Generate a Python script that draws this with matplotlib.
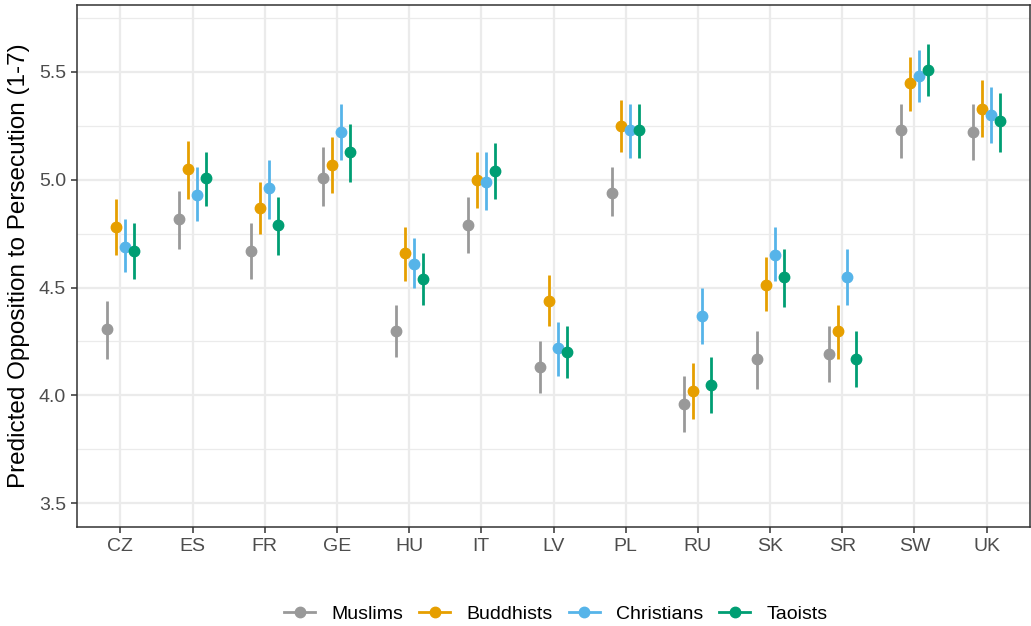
import matplotlib.pyplot as plt
from matplotlib.lines import Line2D
import numpy as np

plt.rcParams['font.family'] = ['Liberation Sans', 'DejaVu Sans']

countries = ['CZ', 'ES', 'FR', 'GE', 'HU', 'IT', 'LV', 'PL', 'RU', 'SK', 'SR', 'SW', 'UK']
groups = ['Muslims', 'Buddhists', 'Christians', 'Taoists']
colors = ['#999999', '#E69F00', '#56B4E9', '#009E73']

# point estimates, per group, in country order
muslims_est = [4.31, 4.82, 4.67, 5.01, 4.30, 4.79, 4.13, 4.94, 3.96, 4.17, 4.19, 5.23, 5.22]
buddhists_est = [4.78, 5.05, 4.87, 5.07, 4.66, 5.00, 4.44, 5.25, 4.02, 4.51, 4.30, 5.45, 5.33]
christians_est = [4.69, 4.93, 4.96, 5.22, 4.61, 4.99, 4.22, 5.23, 4.37, 4.65, 4.55, 5.48, 5.30]
taoists_est = [4.67, 5.01, 4.79, 5.13, 4.54, 5.04, 4.20, 5.23, 4.05, 4.55, 4.17, 5.51, 5.27]

# lower / upper ends of the intervals
muslims_lo = [4.17, 4.68, 4.54, 4.88, 4.18, 4.66, 4.01, 4.83, 3.83, 4.03, 4.06, 5.10, 5.09]
muslims_hi = [4.44, 4.95, 4.80, 5.15, 4.42, 4.92, 4.25, 5.06, 4.09, 4.30, 4.32, 5.35, 5.35]
buddhists_lo = [4.65, 4.91, 4.75, 4.94, 4.53, 4.87, 4.32, 5.13, 3.89, 4.39, 4.17, 5.32, 5.20]
buddhists_hi = [4.91, 5.18, 4.99, 5.20, 4.78, 5.13, 4.56, 5.37, 4.15, 4.64, 4.42, 5.57, 5.46]
christians_lo = [4.57, 4.81, 4.82, 5.09, 4.50, 4.86, 4.09, 5.10, 4.24, 4.53, 4.42, 5.36, 5.17]
christians_hi = [4.82, 5.06, 5.09, 5.35, 4.73, 5.13, 4.34, 5.35, 4.50, 4.78, 4.68, 5.60, 5.43]
taoists_lo = [4.54, 4.88, 4.65, 4.99, 4.42, 4.91, 4.08, 5.10, 3.92, 4.41, 4.04, 5.39, 5.13]
taoists_hi = [4.80, 5.13, 4.92, 5.26, 4.66, 5.17, 4.32, 5.35, 4.18, 4.68, 4.30, 5.63, 5.40]

est = [muslims_est, buddhists_est, christians_est, taoists_est]
lo = [muslims_lo, buddhists_lo, christians_lo, taoists_lo]
hi = [muslims_hi, buddhists_hi, christians_hi, taoists_hi]

fig = plt.figure(figsize=(10.31, 6.26), dpi=100)
ax = fig.add_axes([77 / 1031, 1 - 527 / 626, 953 / 1031, 522 / 626])

x = np.arange(len(countries))
offsets = [-0.1875, -0.0625, 0.0625, 0.1875]
for i, g in enumerate(groups):
    e = np.array(est[i])
    yerr = [e - np.array(lo[i]), np.array(hi[i]) - e]
    ax.errorbar(x + offsets[i], e, yerr=yerr, fmt='o', color=colors[i],
                ms=7.5, elinewidth=2, capsize=0, zorder=3)

ax.set_xlim(-0.6, len(countries) - 0.4)
ax.set_ylim(3.39, 5.81)
ax.set_xticks(x)
ax.set_xticklabels(countries)
ax.set_yticks([3.5, 4.0, 4.5, 5.0, 5.5])
ax.set_yticklabels(['3.5', '4.0', '4.5', '5.0', '5.5'])
ax.set_yticks([3.75, 4.25, 4.75, 5.25, 5.75], minor=True)

ax.grid(True, which='major', color='#EBEBEB', lw=1.6, zorder=0)
ax.grid(True, which='minor', axis='y', color='#EBEBEB', lw=0.9, zorder=0)
ax.set_axisbelow(True)
ax.tick_params(axis='both', which='major', labelsize=14, labelcolor='#4D4D4D',
               color='#333333', length=4, width=1.1, pad=4)
ax.tick_params(axis='y', which='minor', length=0)
for s in ax.spines.values():
    s.set_color('#333333')
    s.set_linewidth(1.1)

ax.set_ylabel('Predicted Opposition to Persecution (1-7)', fontsize=17.5, color='black')
ax.yaxis.set_label_coords(-0.049, 0.5)

handles = [Line2D([0], [0], color=c, lw=2, marker='o', ms=7.5) for c in colors]
fig.legend(handles, groups, loc='center', bbox_to_anchor=(556 / 1031, 1 - 614 / 626),
           ncol=4, frameon=False, fontsize=14, handlelength=1.6, handletextpad=0.85,
           columnspacing=0.8, borderpad=0, borderaxespad=0)

fig.savefig('out.png', dpi=100)
